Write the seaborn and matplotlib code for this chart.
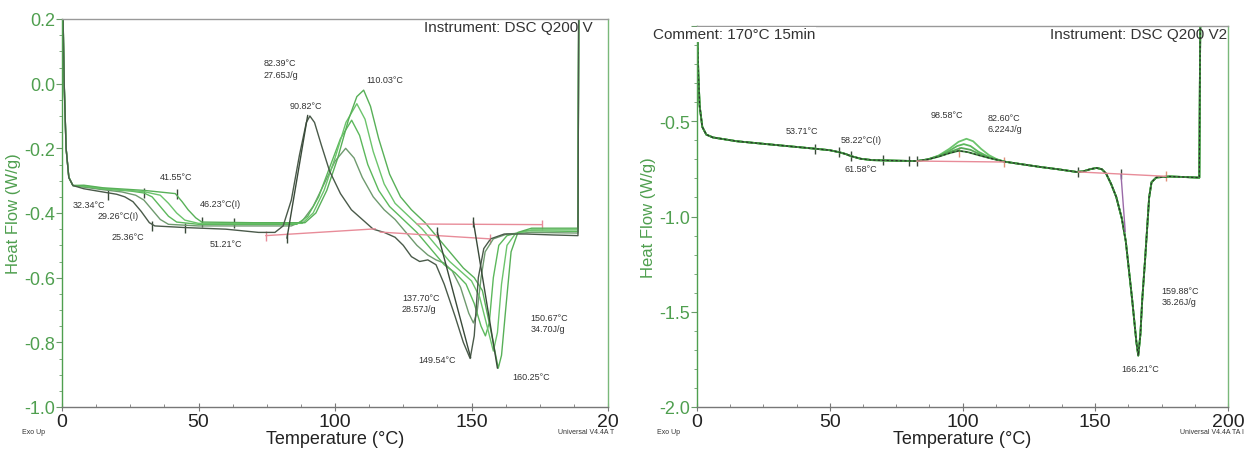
import numpy as np
import pandas as pd
import matplotlib
matplotlib.use("Agg")
import matplotlib.pyplot as plt
import seaborn as sns
from matplotlib.ticker import MultipleLocator, FormatStrFormatter

sns.set_style("ticks")
plt.rcParams['font.family'] = ['Liberation Sans', 'DejaVu Sans']
plt.rcParams['axes.unicode_minus'] = False

# ---------------- LEFT PANEL DATA (Temperature °C, Heat Flow W/g) ----------------
start_T = [0.2, 0.8, 1.5, 2.5, 4]
start_HF = [0.30, 0.0, -0.20, -0.29, -0.315]

dark_T = [8, 15, 20, 23, 26, 29, 32, 34, 45, 60, 72, 78, 81, 84, 87, 89.5, 90.8, 92.5, 95, 98,
          102, 106, 110, 114, 118, 122, 125, 128, 131, 134, 137, 140, 144, 147, 149.5, 151,
          152.5, 154.5, 157, 162, 170, 180, 189, 189.3]
dark_HF = [-0.325, -0.335, -0.342, -0.35, -0.365, -0.395, -0.43, -0.44, -0.445, -0.45, -0.46,
           -0.46, -0.44, -0.36, -0.22, -0.12, -0.10, -0.12, -0.19, -0.27, -0.34, -0.39, -0.42,
           -0.45, -0.46, -0.475, -0.50, -0.535, -0.55, -0.545, -0.56, -0.62, -0.72, -0.80,
           -0.85, -0.78, -0.60, -0.51, -0.48, -0.465, -0.465, -0.468, -0.47, 0.30]

ga_T = [8, 15, 22, 27, 30, 33, 36, 39, 50, 70, 84, 88, 92, 96, 100, 103.9, 107, 110, 114, 118,
        122, 126, 130, 134, 137, 140, 143, 146, 149, 150.7, 152, 153.5, 155, 158, 163, 172,
        189, 189.3]
ga_HF = [-0.32, -0.328, -0.335, -0.345, -0.36, -0.39, -0.42, -0.435, -0.44, -0.44, -0.44,
         -0.425, -0.38, -0.31, -0.24, -0.20, -0.23, -0.29, -0.35, -0.39, -0.42, -0.46, -0.50,
         -0.53, -0.545, -0.555, -0.58, -0.63, -0.71, -0.74, -0.71, -0.60, -0.52, -0.48,
         -0.465, -0.46, -0.462, 0.30]

gb_T = [8, 15, 25, 30, 33, 36, 39, 42, 50, 70, 86, 90, 94, 98, 102, 106.1, 109, 112, 116, 120,
        125, 130, 135, 140, 144, 148, 151, 153.5, 155.1, 156.5, 158, 160, 163, 170, 189, 189.3]
gb_HF = [-0.318, -0.326, -0.332, -0.338, -0.35, -0.38, -0.41, -0.428, -0.435, -0.435, -0.435,
         -0.41, -0.35, -0.26, -0.17, -0.113, -0.16, -0.25, -0.33, -0.38, -0.42, -0.46, -0.51,
         -0.56, -0.585, -0.62, -0.68, -0.75, -0.78, -0.74, -0.60, -0.50, -0.47, -0.455,
         -0.457, 0.30]

gc_T = [8, 15, 30, 36, 39, 42, 45, 50, 70, 88, 92, 96, 100, 104, 108, 111, 114, 118, 122, 127,
        132, 137, 142, 146, 150, 153, 156, 158, 159.5, 161, 163, 166, 172, 189, 189.3]
gc_HF = [-0.316, -0.324, -0.334, -0.345, -0.37, -0.40, -0.422, -0.432, -0.432, -0.432, -0.40,
         -0.33, -0.23, -0.12, -0.062, -0.11, -0.21, -0.31, -0.37, -0.41, -0.45, -0.50, -0.55,
         -0.58, -0.61, -0.66, -0.76, -0.827, -0.77, -0.62, -0.50, -0.465, -0.452, -0.452, 0.30]

gd_T = [8, 15, 30, 41.5, 44, 46.2, 49, 51.2, 70, 89, 93, 97, 101, 105, 108, 110.5, 113, 116,
        120, 124, 128, 133, 138, 143, 147, 151, 154, 157, 159.8, 161, 162.5, 164.5, 167, 172,
        189, 189.3]
gd_HF = [-0.314, -0.322, -0.33, -0.34, -0.365, -0.39, -0.415, -0.428, -0.43, -0.43, -0.40,
         -0.33, -0.23, -0.11, -0.04, -0.02, -0.07, -0.17, -0.28, -0.35, -0.39, -0.43, -0.48,
         -0.53, -0.57, -0.60, -0.64, -0.76, -0.88, -0.84, -0.70, -0.52, -0.46, -0.447,
         -0.447, 0.30]

# baselines (pink) and tangent lines (dark), left panel
pinkL_1_T, pinkL_1_HF = [74.6, 114.8], [-0.470, -0.449]
pinkL_2_T, pinkL_2_HF = [116.5, 156.8], [-0.459, -0.480]
pinkL_3_T, pinkL_3_HF = [129.9, 175.7], [-0.434, -0.436]
tanL_1_T, tanL_1_HF = [82.4, 90.0], [-0.478, -0.098]
tanL_2_T, tanL_2_HF = [137.5, 149.7], [-0.460, -0.848]
tanL_3_T, tanL_3_HF = [150.7, 159.5], [-0.427, -0.880]
markL_T = [17, 30, 42, 51.2, 63, 33, 45, 82.4, 137.5, 150.7]
markL_HF = [-0.343, -0.338, -0.34, -0.428, -0.43, -0.44, -0.445, -0.478, -0.46, -0.427]

labelsL = [("82.39°C\n27.65J/g", 74.0, 0.047), ("110.03°C", 111.5, 0.014),
           ("90.82°C", 83.5, -0.066), ("41.55°C", 36.0, -0.286), ("32.34°C", 4.0, -0.375),
           ("46.23°C(I)", 50.5, -0.372), ("29.26°C(I)", 13.0, -0.409), ("25.36°C", 18.0, -0.474),
           ("51.21°C", 54.0, -0.493), ("137.70°C\n28.57J/g", 124.5, -0.678),
           ("150.67°C\n34.70J/g", 171.5, -0.740), ("149.54°C", 130.5, -0.852),
           ("160.25°C", 165.0, -0.907)]

# ---------------- RIGHT PANEL DATA ----------------
pre_T = [0.1, 0.5, 1.0, 2, 3.5, 6, 15, 30, 44.4, 50, 53.4, 56, 58, 61.7, 66, 75, 82.7]
pre_HF = [-0.02, -0.25, -0.42, -0.53, -0.57, -0.585, -0.605, -0.625, -0.644, -0.652, -0.662,
          -0.672, -0.683, -0.697, -0.704, -0.707, -0.709]
post_T = [122, 129.3, 136, 142.9, 145.5, 148, 150.5, 152.5, 154.1, 156, 157.9, 160, 161.5,
          163.9, 165.5, 166.2, 167, 167.7, 168.8, 169.6, 170.3, 171.2, 173, 178, 182, 189.2,
          189.4, 189.6]
post_HF = [-0.725, -0.74, -0.752, -0.766, -0.763, -0.752, -0.745, -0.752, -0.775, -0.83,
           -0.897, -1.01, -1.13, -1.436, -1.66, -1.73, -1.62, -1.436, -1.22, -1.05, -0.90,
           -0.82, -0.795, -0.79, -0.792, -0.796, -0.30, 0.05]
r1_T = [87, 91, 95, 98.5, 101.5, 104, 107, 110, 113, 115.8]
r1_HF = [-0.70, -0.68, -0.645, -0.608, -0.592, -0.605, -0.645, -0.678, -0.70, -0.712]
r2_T = [87, 91, 95, 98, 100.5, 103, 106, 110, 115.8]
r2_HF = [-0.70, -0.682, -0.655, -0.630, -0.620, -0.63, -0.66, -0.688, -0.712]
r3_T = [87, 91, 95, 99.5, 103, 107, 111, 115.8]
r3_HF = [-0.70, -0.684, -0.662, -0.640, -0.65, -0.676, -0.695, -0.712]
r4_T = [87, 91, 95, 98.6, 102, 106, 110, 115.8]
r4_HF = [-0.70, -0.686, -0.668, -0.655, -0.662, -0.678, -0.693, -0.712]

pinkR_1_T, pinkR_1_HF = [82.7, 115.8], [-0.709, -0.714]
pinkR_2_T, pinkR_2_HF = [143.6, 176.7], [-0.766, -0.789]
tanR_T, tanR_HF = [159.7, 161.3], [-0.78, -1.08]
markR_T = [44.4, 53.4, 58, 70, 80, 82.7, 143.6, 159.7]
markR_HF = [-0.644, -0.662, -0.683, -0.706, -0.708, -0.709, -0.766, -0.779]

labelsR = [("53.71°C", 33.5, -0.547), ("58.22°C(I)", 54.0, -0.594), ("61.58°C", 55.5, -0.746),
           ("98.58°C", 88.0, -0.463), ("82.60°C\n6.224J/g", 109.5, -0.510),
           ("159.88°C\n36.26J/g", 175.0, -1.417), ("166.21°C", 160.0, -1.80)]

GREEN = "#5cb85c"
DARK = "#3a4a3a"
PINK = "#e88c99"


def curve_df(name, T, HF):
    return pd.DataFrame({"T": T, "HF": HF, "curve": name})


# ---------------- FIGURE ----------------
W, H = 1247, 452
fig = plt.figure(figsize=(W / 100, H / 100), dpi=100)
axL = fig.add_axes([62 / W, 1 - 408 / H, (608 - 62) / W, (408 - 20) / H])
axR = fig.add_axes([697 / W, 1 - 408 / H, (1228 - 697) / W, (408 - 27) / H])

# left curves
dfL = pd.concat([
    curve_df("A", start_T + ga_T, start_HF + ga_HF),
    curve_df("B", start_T + gb_T, start_HF + gb_HF),
    curve_df("C", start_T + gc_T, start_HF + gc_HF),
    curve_df("D", start_T + gd_T, start_HF + gd_HF),
    curve_df("K", start_T + dark_T, start_HF + dark_HF),
])
palL = {"A": "#6f9a6f", "B": GREEN, "C": "#6cc46c", "D": "#58b058", "K": "#4a5a4a"}
sns.lineplot(data=dfL, x="T", y="HF", hue="curve", units="curve", estimator=None, sort=False,
             palette=palL, linewidth=1.0, legend=False, ax=axL)

for tx, hy, col in [(pinkL_1_T, pinkL_1_HF, PINK), (pinkL_2_T, pinkL_2_HF, PINK),
                    (pinkL_3_T, pinkL_3_HF, PINK), (tanL_1_T, tanL_1_HF, DARK),
                    (tanL_2_T, tanL_2_HF, DARK), (tanL_3_T, tanL_3_HF, DARK)]:
    sns.lineplot(x=tx, y=hy, color=col, linewidth=1.0, ax=axL, sort=False, estimator=None)
sns.scatterplot(x=markL_T, y=markL_HF, marker="|", s=60, color=DARK, linewidth=1, ax=axL)
sns.scatterplot(x=[pinkL_1_T[0], pinkL_2_T[1], pinkL_3_T[1]],
                y=[pinkL_1_HF[0], pinkL_2_HF[1], pinkL_3_HF[1]],
                marker="|", s=60, color=PINK, linewidth=1, ax=axL)

for txt, x, y in labelsL:
    axL.text(x, y, txt, fontsize=6.5, color="#333333", va="center", ha="left", linespacing=1.3)

# right curves
dfR = pd.concat([
    curve_df("R1", pre_T + r1_T + post_T, pre_HF + r1_HF + post_HF),
    curve_df("R2", pre_T + r2_T + post_T, pre_HF + r2_HF + post_HF),
    curve_df("R3", pre_T + r3_T + post_T, pre_HF + r3_HF + post_HF),
    curve_df("R4", pre_T + r4_T + post_T, pre_HF + r4_HF + post_HF),
])
palR = {"R1": "#6cc46c", "R2": GREEN, "R3": "#58a858", "R4": "#3f8f3f"}
sns.lineplot(data=dfR, x="T", y="HF", hue="curve", units="curve", estimator=None, sort=False,
             palette=palR, linewidth=1.3, legend=False, ax=axR)
sns.lineplot(x=pre_T + r4_T + post_T, y=pre_HF + r4_HF + post_HF, color="#2a2a2a",
             linewidth=0.8, linestyle=(0, (2, 2)), sort=False, estimator=None, ax=axR)
for tx, hy, col in [(pinkR_1_T, pinkR_1_HF, PINK), (pinkR_2_T, pinkR_2_HF, PINK),
                    (tanR_T, tanR_HF, "#9a6aa8")]:
    sns.lineplot(x=tx, y=hy, color=col, linewidth=1.0, ax=axR, sort=False, estimator=None)
sns.scatterplot(x=markR_T, y=markR_HF, marker="|", s=60, color=DARK, linewidth=1, ax=axR)
sns.scatterplot(x=[pinkR_1_T[1], pinkR_2_T[1], 98.6], y=[pinkR_1_HF[1], pinkR_2_HF[1], -0.66],
                marker="|", s=60, color="#e0907a", linewidth=1, ax=axR)
for txt, x, y in labelsR:
    axR.text(x, y, txt, fontsize=6.5, color="#333333", va="center", ha="left", linespacing=1.3)

# ---------------- STYLING ----------------
ytick_col = "#4f9f4f"
for ax, ylim, ymaj, ymin in [(axL, (-1.0, 0.2), 0.2, 0.05), (axR, (-2.0, 0.0), 0.5, 0.1)]:
    ax.set_xlim(0, 200)
    ax.set_ylim(*ylim)
    ax.xaxis.set_major_locator(MultipleLocator(50))
    ax.xaxis.set_minor_locator(MultipleLocator(12.5))
    ax.yaxis.set_major_locator(MultipleLocator(ymaj))
    ax.yaxis.set_minor_locator(MultipleLocator(ymin))
    ax.yaxis.set_major_formatter(FormatStrFormatter("%.1f"))
    ax.tick_params(axis="y", which="major", direction="out", length=4, width=0.8,
                   colors="#6a9a6a", labelcolor=ytick_col, labelsize=13, pad=1)
    ax.tick_params(axis="y", which="minor", direction="out", length=2, colors="#6a9a6a")
    ax.tick_params(axis="x", which="major", direction="inout", length=6, width=0.8,
                   colors="#777777", labelcolor="#222222", labelsize=14, pad=1)
    ax.tick_params(axis="x", which="minor", direction="in", length=2.5, colors="#777777")
    ax.spines["left"].set_color("#4f9f4f")
    ax.spines["right"].set_color("#7ab87a")
    ax.spines["top"].set_color("#999999")
    ax.spines["bottom"].set_color("#777777")
    for s in ax.spines.values():
        s.set_linewidth(1.0)
    ax.set_xlabel("Temperature (°C)", fontsize=13, color="#222222", labelpad=0)
    ax.set_ylabel("Heat Flow (W/g)", fontsize=12, color="#4f9f4f", labelpad=2)

axL.set_xticks([0, 50, 100, 150, 200])
axL.set_xticklabels(["0", "50", "100", "150", "20"])
axR.set_yticks([-2.0, -1.5, -1.0, -0.5, 0.0])
axR.set_yticklabels(["-2.0", "-1.5", "-1.0", "-0.5", ""])

tL = axL.text(132.5, 0.175, "Instrument: DSC Q200 V", fontsize=11, color="#333333",
              va="center", ha="left", clip_on=True)
tL.set_clip_box(axL.bbox)
tR = axR.text(133, -0.04, "Instrument: DSC Q200 V2", fontsize=11, color="#333333",
              va="center", ha="left", clip_on=True)
tR.set_clip_box(axR.bbox)
axR.text(-0.083, 0.978, "Comment: 170°C 15min", transform=axR.transAxes, fontsize=11,
         color="#333333", va="center", ha="left",
         bbox=dict(facecolor="white", edgecolor="none", pad=0.5))

fig.text(22 / W, 1 - 433 / H, "Exo Up", fontsize=5, color="#333333", va="center")
fig.text(614 / W, 1 - 433 / H, "Universal V4.4A T", fontsize=5, color="#333333",
         va="center", ha="right")
fig.text(657 / W, 1 - 433 / H, "Exo Up", fontsize=5, color="#333333", va="center")
fig.text(1244 / W, 1 - 433 / H, "Universal V4.4A TA I", fontsize=5, color="#333333",
         va="center", ha="right")

fig.savefig("out.png", dpi=100, facecolor="white")
